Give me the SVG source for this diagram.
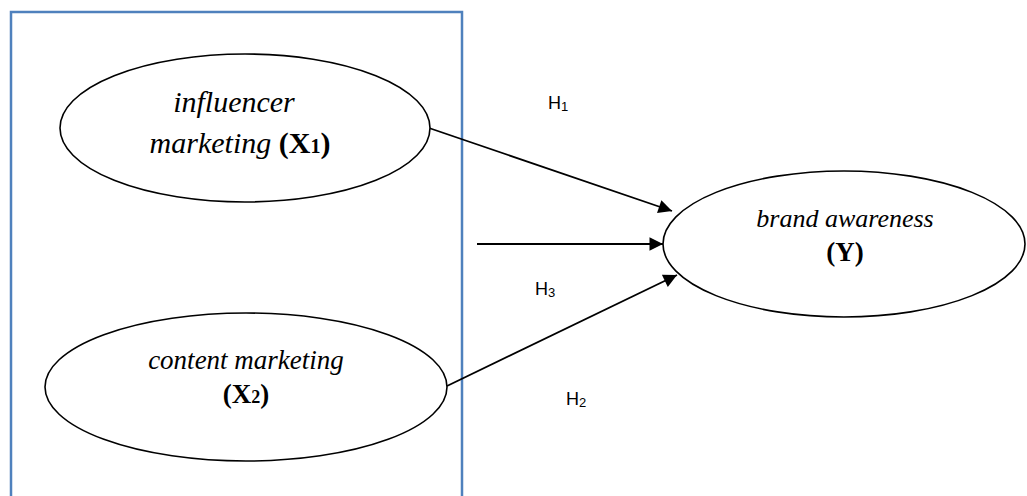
<svg xmlns="http://www.w3.org/2000/svg" width="1027" height="496" viewBox="0 0 1027 496">
  <style>
    .frame { fill: none; stroke: #4F81BD; stroke-width: 2.5; }
    .node { fill: #ffffff; stroke: #000000; stroke-width: 1.6; }
    .lbl { font-family: "Liberation Serif", "Times New Roman", serif; fill: #000000; text-anchor: middle; }
    .big { font-size: 30px; }
    .mid { font-size: 27px; }
    .sm { font-size: 26px; }
    .it { font-style: italic; }
    .bd { font-weight: bold; }
    .hyp { font-family: "Liberation Sans", Arial, sans-serif; font-size: 18px; fill: #000000; }
    .sub { font-size: 13px; }
    .edge { stroke: #000000; stroke-width: 1.8; fill: none; marker-end: url(#head); }
  </style>
  <defs>
    <marker id="head" viewBox="0 0 10 10" refX="10" refY="5" markerWidth="9" markerHeight="7.5" markerUnits="strokeWidth" orient="auto">
      <path d="M0,0 L10,5 L0,10 Z" fill="#000000"/>
    </marker>
  </defs>
  <rect width="1027" height="496" fill="#ffffff"/>

  <!-- grouping frame around the independent variables -->
  <g id="frame">
    <path class="frame" d="M11,500 L11,12 L462,12 L462,500"/>
  </g>

  <g id="connectors">
    <line class="edge" x1="429" y1="128" x2="672" y2="211"/>
    <line class="edge" x1="477" y1="244" x2="663" y2="244"/>
    <line class="edge" x1="447" y1="386" x2="677" y2="275"/>
  </g>

  <g id="x1">
    <ellipse class="node" cx="245" cy="128" rx="185" ry="74"/>
    <text class="lbl big it" x="234" y="112">influencer</text>
    <text class="lbl big" x="240" y="153"><tspan class="it">marketing </tspan><tspan class="bd">(X<tspan font-size="20">1</tspan>)</tspan></text>
  </g>

  <g id="x2">
    <ellipse class="node" cx="246" cy="387" rx="201" ry="74"/>
    <text class="lbl mid it" x="246" y="369">content marketing</text>
    <text class="lbl mid bd" x="246" y="403">(X<tspan font-size="18">2</tspan>)</text>
  </g>

  <g id="y">
    <ellipse class="node" cx="844" cy="244" rx="181" ry="73"/>
    <text class="lbl sm it" x="845" y="227">brand awareness</text>
    <text class="lbl mid bd" x="845" y="261">(Y)</text>
  </g>

  <g id="hypotheses">
    <text class="hyp" x="548" y="109">H<tspan class="sub" dy="2">1</tspan></text>
    <text class="hyp" x="535" y="295">H<tspan class="sub" dy="2">3</tspan></text>
    <text class="hyp" x="566" y="405">H<tspan class="sub" dy="2">2</tspan></text>
  </g>
</svg>
